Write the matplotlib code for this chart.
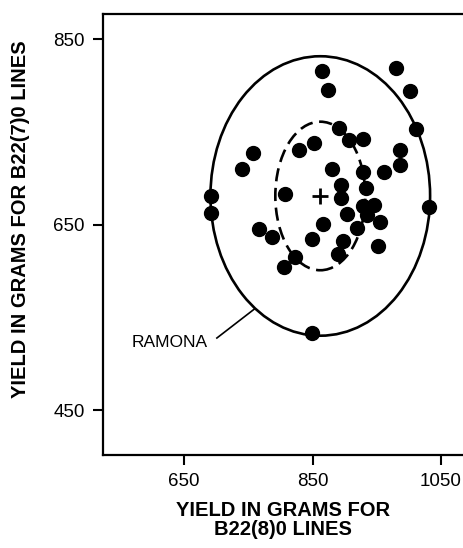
import matplotlib
matplotlib.use("Agg")
import matplotlib.pyplot as plt
from matplotlib.patches import Ellipse

plt.rcParams['font.family'] = ['Liberation Sans', 'DejaVu Sans']

# Yield of individual lines (grams)
yield_b22_8 = [864, 874, 980, 1001, 1011, 891, 906, 929, 853, 829,
               758, 740, 986, 986, 961, 929, 880, 933, 895, 895,
               807, 692, 692, 1031, 929, 945, 934, 903, 919, 955,
               866, 767, 787, 849, 898, 952, 890, 823, 806, 849]
yield_b22_7 = [816, 795, 819, 794, 753, 754, 741, 742, 738, 731,
               727, 710, 730, 714, 707, 707, 710, 690, 693, 679,
               683, 681, 663, 669, 670, 671, 660, 662, 647, 653,
               651, 645, 637, 635, 633, 627, 618, 615, 604, 533]

center = (862, 681)
outer_size = (342, 301)   # solid ellipse (Ramona) full width/height
inner_size = (140, 160)   # dashed ellipse

x_ticks = [650, 850, 1050]
y_ticks = [450, 650, 850]

fig = plt.figure(figsize=(4.63, 5.48), dpi=100)
ax = fig.add_axes([103/463, 93/548, 365/463, 441/548])
ax.set_xlim(523.7, 1092)
ax.set_ylim(402, 877)

ax.add_patch(Ellipse(center, outer_size[0], outer_size[1], fill=False,
                     lw=1.9, ec='black', zorder=2))
ax.add_patch(Ellipse(center, inner_size[0], inner_size[1], fill=False,
                     lw=1.9, ec='black', ls=(0, (5, 2.5)), zorder=2))
ax.plot(yield_b22_8, yield_b22_7, 'o', color='black', ms=10, zorder=3)
ax.plot([center[0]], [center[1]], marker='+', color='black', ms=11, mew=2, zorder=3)

ax.plot([759, 701], [559, 528], color='black', lw=1.2)
ax.text(569, 523, 'RAMONA', fontsize=12.5, ha='left', va='center')

ax.set_xticks(x_ticks)
ax.set_yticks(y_ticks)
ax.tick_params(direction='out', length=7, width=1.5, labelsize=13.5, pad=6)
for s in ['left', 'bottom', 'top']:
    ax.spines[s].set_linewidth(1.6)
ax.spines['right'].set_visible(False)

fig.text(283/463, 1 - 520/548, 'YIELD IN GRAMS FOR\nB22(8)0 LINES', ha='center',
         va='center', fontsize=14.5, fontweight='bold', linespacing=0.95)
fig.text(21/463, 1 - 219/548, 'YIELD IN GRAMS FOR B22(7)0 LINES', ha='center',
         va='center', rotation=90, fontsize=14.5, fontweight='bold')

fig.savefig('out.png', dpi=100)
